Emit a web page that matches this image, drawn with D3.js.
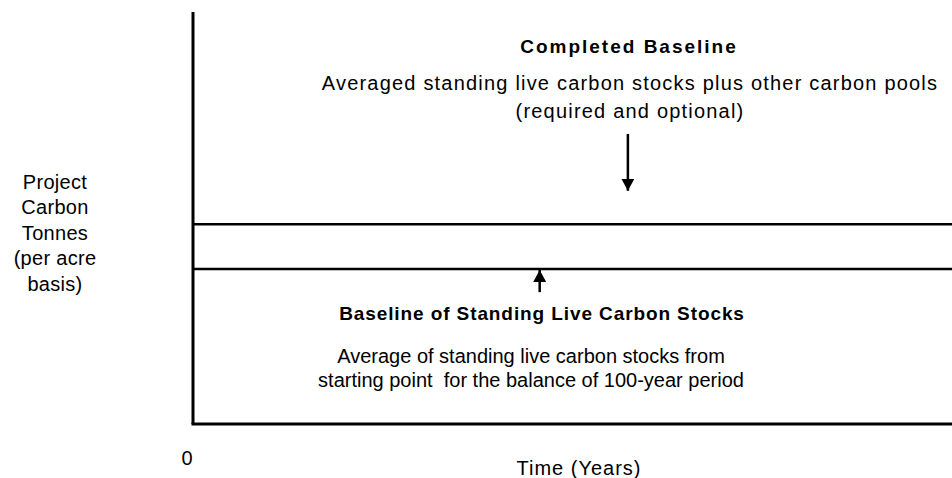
<!DOCTYPE html>
<html>
<head>
<meta charset="utf-8">
<script src="https://cdn.jsdelivr.net/npm/d3@7"></script>
<style>
  body { margin: 0; background: #fff; }
  text { font-family: "Liberation Sans", Arial, sans-serif; fill: #000; }
</style>
</head>
<body>
<script>
// Datos del grafico
var yearDomain = [0, 100];
var carbonDomain = [0, 100];
var xTickValues = [0];
var xTickLabels = ["0"];
var baselineNames = ["Completed Baseline", "Baseline of Standing Live Carbon Stocks"];
var baselineValues = [48.5, 37.6];
// flechas: año, valor inicio, valor punta
var arrowYears = [56.7, 45.2];
var arrowFrom = [70.4, 32.0];
var arrowTo = [56.6, 37.4];
var yLabelLines = ["Project", "Carbon", "Tonnes", "(per acre", "basis)"];
var xLabel = "Time (Years)";
var completedNotes = ["Averaged standing live carbon stocks plus other carbon pools", "(required and optional)"];
var standingNotes = ["Average of standing live carbon stocks from", "starting point  for the balance of 100-year period"];

var vis = { w: 952, h: 478 };

// Escalas
var x = d3.scaleLinear().domain(yearDomain).range([193, 960]);
var y = d3.scaleLinear().domain(carbonDomain).range([424, 12]);

// Creacion del SVG
var svg = d3.select("body")
    .append("svg")
    .attr("width", vis.w)
    .attr("height", vis.h);

svg.append("defs").append("marker")
    .attr("id", "head")
    .attr("markerUnits", "userSpaceOnUse")
    .attr("markerWidth", 14)
    .attr("markerHeight", 14)
    .attr("refX", 12)
    .attr("refY", 6.5)
    .attr("orient", "auto")
    .append("path")
    .attr("d", "M0,0 L12,6.5 L0,13 Z")
    .attr("fill", "#000");

// Ejes
svg.append("line")
    .attr("x1", x(0)).attr("x2", x(0))
    .attr("y1", y(100)).attr("y2", y(0))
    .attr("stroke", "#000").attr("stroke-width", 3);

svg.append("line")
    .attr("x1", x(0) - 1.5).attr("x2", x(100))
    .attr("y1", y(0)).attr("y2", y(0))
    .attr("stroke", "#000").attr("stroke-width", 3);

svg.selectAll(".xtick")
    .data(xTickValues)
    .enter()
    .append("text")
    .attr("class", "xtick")
    .attr("x", function(d) { return x(d) - 6; })
    .attr("y", 465)
    .attr("text-anchor", "middle")
    .attr("font-size", "20px")
    .text(function(d, i) { return xTickLabels[i]; });

// Lineas base
svg.selectAll(".baseline")
    .data(baselineValues)
    .enter()
    .append("line")
    .attr("class", "baseline")
    .attr("x1", x(0))
    .attr("x2", x(100))
    .attr("y1", function(d) { return y(d); })
    .attr("y2", function(d) { return y(d); })
    .attr("stroke", "#000")
    .attr("stroke-width", 2.5);

// Flechas
svg.selectAll(".arrow")
    .data(arrowYears)
    .enter()
    .append("line")
    .attr("class", "arrow")
    .attr("x1", function(d) { return x(d); })
    .attr("x2", function(d) { return x(d); })
    .attr("y1", function(d, i) { return y(arrowFrom[i]); })
    .attr("y2", function(d, i) { return y(arrowTo[i]); })
    .attr("stroke", "#000")
    .attr("stroke-width", 2.5)
    .attr("marker-end", "url(#head)");

// Textos
svg.append("text")
    .attr("x", 629).attr("y", 53)
    .attr("text-anchor", "middle")
    .attr("font-size", "19px")
    .attr("font-weight", "bold")
    .attr("letter-spacing", "2px")
    .text(baselineNames[0]);

svg.selectAll(".note1")
    .data(completedNotes)
    .enter()
    .append("text")
    .attr("class", "note1")
    .attr("x", 630)
    .attr("y", function(d, i) { return 90 + i * 28; })
    .attr("text-anchor", "middle")
    .attr("font-size", "20px")
    .attr("letter-spacing", "1.2px")
    .text(function(d) { return d; });

svg.append("text")
    .attr("x", 542).attr("y", 320)
    .attr("text-anchor", "middle")
    .attr("font-size", "19px")
    .attr("font-weight", "bold")
    .attr("letter-spacing", "0.9px")
    .text(baselineNames[1]);

svg.selectAll(".note2")
    .data(standingNotes)
    .enter()
    .append("text")
    .attr("class", "note2")
    .attr("x", 531)
    .attr("y", function(d, i) { return 363 + i * 24; })
    .attr("text-anchor", "middle")
    .attr("font-size", "20px")
    .style("white-space", "pre")
    .text(function(d) { return d; });

svg.selectAll(".ylabel")
    .data(yLabelLines)
    .enter()
    .append("text")
    .attr("class", "ylabel")
    .attr("x", 55)
    .attr("y", function(d, i) { return 189 + i * 25.4; })
    .attr("text-anchor", "middle")
    .attr("font-size", "20px")
    .attr("letter-spacing", "0.3px")
    .style("white-space", "pre")
    .text(function(d) { return d; });

svg.append("text")
    .attr("x", 579).attr("y", 475)
    .attr("text-anchor", "middle")
    .attr("font-size", "20px")
    .attr("letter-spacing", "1px")
    .text(xLabel);
</script>
</body>
</html>
